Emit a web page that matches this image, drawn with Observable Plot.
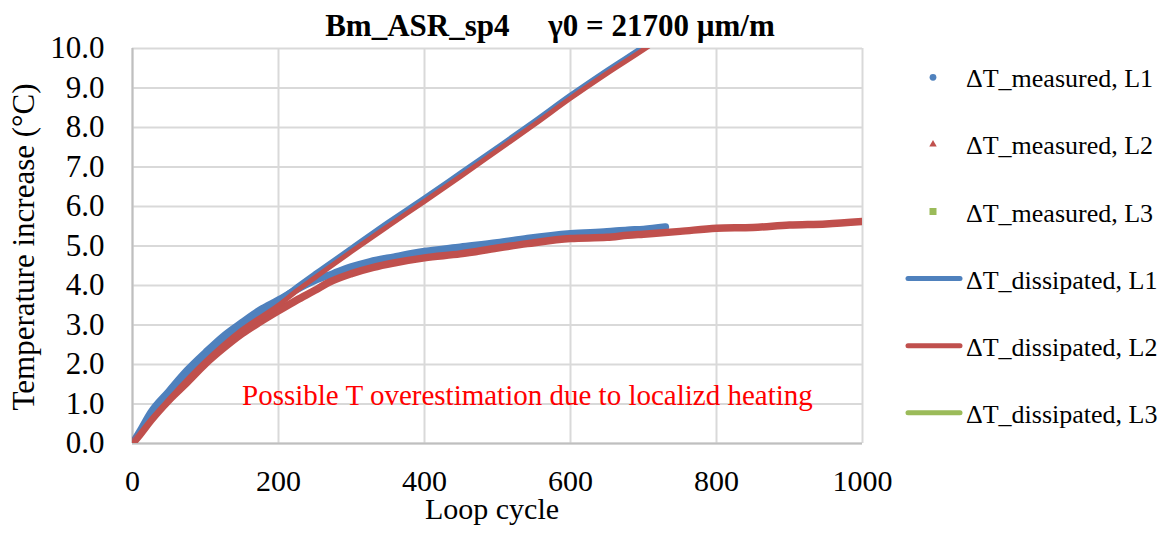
<!DOCTYPE html>
<html><head><meta charset="utf-8">
<script src="https://cdn.jsdelivr.net/npm/d3@7"></script>
<script src="https://cdn.jsdelivr.net/npm/@observablehq/plot@0.6"></script>
<style>
html,body{margin:0;padding:0;background:#fff;}
#wrap{position:relative;width:1170px;height:533px;font-family:'Liberation Serif';overflow:hidden;background:#fff;}
#wrap svg{display:block;}
.ov{position:absolute;white-space:pre;line-height:1;color:#000;font-family:'Liberation Serif';}
</style></head><body><div id="wrap"></div>
<script>
// ---- data ----
const titleText = "Bm_ASR_sp4     γ0 = 21700 µm/m";
const xLabel = "Loop cycle";
const yLabel = "Temperature increase (°C)";
const xTicks = [0, 200, 400, 600, 800, 1000];
const yTicks = [0, 1, 2, 3, 4, 5, 6, 7, 8, 9, 10];

const measL1Cycle = [0,10,25,50,75,100,125,150,175,200,225,250,275,300,325,358,400,449,500,541,600,650,678,700,730];
const measL1Temp  = [0,0.3,0.78,1.32,1.85,2.3,2.72,3.06,3.38,3.63,3.9,4.13,4.3,4.47,4.6,4.72,4.86,4.97,5.08,5.19,5.31,5.36,5.4,5.42,5.48];

const measL2Cycle = [0,10,25,50,75,100,125,150,175,200,225,250,267,300,330,358,400,449,500,541,600,650,678,700,750,800,850,900,950,1000];
const measL2Temp  = [0,0.22,0.58,1.1,1.55,2.02,2.42,2.78,3.08,3.36,3.63,3.88,4.06,4.3,4.46,4.57,4.7,4.8,4.95,5.06,5.19,5.22,5.27,5.3,5.37,5.45,5.47,5.53,5.56,5.62];

const dissCycle  = [0,25,50,100,150,200,226,250,300,350,400,450,500,550,600,650,700,720];
const dissL1Temp = [0,0.7,1.28,2.22,3.0,3.62,3.98,4.3,4.95,5.6,6.22,6.86,7.5,8.15,8.82,9.45,10.05,10.3];
const dissL2Temp = [0,0.6,1.12,2.08,2.88,3.5,3.88,4.2,4.86,5.5,6.13,6.77,7.42,8.07,8.74,9.37,9.97,10.22];

const seriesNames  = ["ΔT_measured, L1","ΔT_measured, L2","ΔT_measured, L3","ΔT_dissipated, L1","ΔT_dissipated, L2","ΔT_dissipated, L3"];
const seriesKinds  = ["circle","triangle","square","line","line","line"];
const seriesColors = ["#4F81BD","#C0504D","#9BBB59","#4F81BD","#C0504D","#9BBB59"];

const annotation = [{cycle: 541, dT: 1.2, text: "Possible T overestimation due to localizd heating"}];

// ---- build ----
const rows = (xs, ys) => xs.map((x, i) => ({cycle: x, dT: ys[i]}));
const font = "Liberation Serif";
const W = 1170, H = 533;

const lineOpts = (c, w) => ({x: "cycle", y: "dT", stroke: c, strokeWidth: w, strokeLinejoin: "round", strokeLinecap: "round", clip: true, curve: "monotone-x"});

const chart = Plot.plot({
  width: W, height: H,
  marginLeft: 132, marginRight: 308, marginTop: 48, marginBottom: 90,
  style: {fontFamily: font, background: "white", color: "black"},
  x: {domain: [0, 1000]},
  y: {domain: [0, 10]},
  marks: [
    Plot.gridY(yTicks, {stroke: "#D9D9D9", strokeOpacity: 1, strokeWidth: 2}),
    Plot.gridX(xTicks, {stroke: "#D9D9D9", strokeOpacity: 1, strokeWidth: 2}),
    Plot.ruleX([0], {stroke: "#BFBFBF", strokeWidth: 2}),
    Plot.ruleY([0], {stroke: "#BFBFBF", strokeWidth: 2}),
    Plot.axisY(yTicks, {tickSize: 0, tickPadding: 28, tickFormat: d => d.toFixed(1), fontSize: 31, fontFamily: font, label: null}),
    Plot.axisX(xTicks, {tickSize: 0, tickPadding: 26, tickFormat: d => String(d), fontSize: 30, fontFamily: font, label: null}),
    Plot.line(rows(measL1Cycle, measL1Temp), lineOpts(seriesColors[0], 7.5)),
    Plot.line(rows(measL2Cycle, measL2Temp), lineOpts(seriesColors[1], 7.5)),
    Plot.line(rows(dissCycle, dissL1Temp), lineOpts(seriesColors[3], 5)),
    Plot.line(rows(dissCycle, dissL2Temp), lineOpts(seriesColors[4], 5)),
    Plot.text(annotation, {x: "cycle", y: "dT", text: "text", fill: "#FF0000", fontSize: 29, fontFamily: font, textAnchor: "middle", lineAnchor: "middle"})
  ]
});

const wrap = document.getElementById("wrap");
chart.style.position = "absolute";
chart.style.left = "0px";
chart.style.top = "0px";
wrap.appendChild(chart);

const addText = (txt, css) => {
  const d = document.createElement("div");
  d.className = "ov";
  d.textContent = txt;
  d.style.cssText += css;
  wrap.appendChild(d);
};

// title and axis titles
addText(titleText, "font-weight:bold;font-size:31px;left:550px;top:10px;transform:translateX(-50%);");
addText(xLabel, "font-size:30px;left:492px;top:494px;transform:translateX(-50%);");
addText(yLabel, "font-size:31px;left:23px;top:247px;transform:translate(-50%,-50%) rotate(-90deg);");

// legend
const leg = d3.select(wrap).append("svg")
  .attr("width", 290).attr("height", H)
  .style("position", "absolute").style("left", "880px").style("top", "0px");
seriesNames.forEach((name, i) => {
  const base = 87.3 + 67.1 * i;
  const my = base - 10;
  const g = leg.append("g");
  const kind = seriesKinds[i], c = seriesColors[i];
  if (kind === "line") {
    g.append("line").attr("x1", 28).attr("x2", 80).attr("y1", my).attr("y2", my)
      .attr("stroke", c).attr("stroke-width", 5).attr("stroke-linecap", "round");
  } else {
    const sym = kind === "circle" ? d3.symbolCircle : kind === "triangle" ? d3.symbolTriangle : d3.symbolSquare;
    const size = kind === "circle" ? 36 : kind === "triangle" ? 24 : 49;
    g.append("path").attr("d", d3.symbol(sym, size)()).attr("transform", `translate(53,${my})`).attr("fill", c);
  }
  g.append("text").attr("x", 86).attr("y", base).attr("font-size", 26)
    .attr("font-family", font).attr("fill", "#000").text(name);
});
</script>
</body></html>
